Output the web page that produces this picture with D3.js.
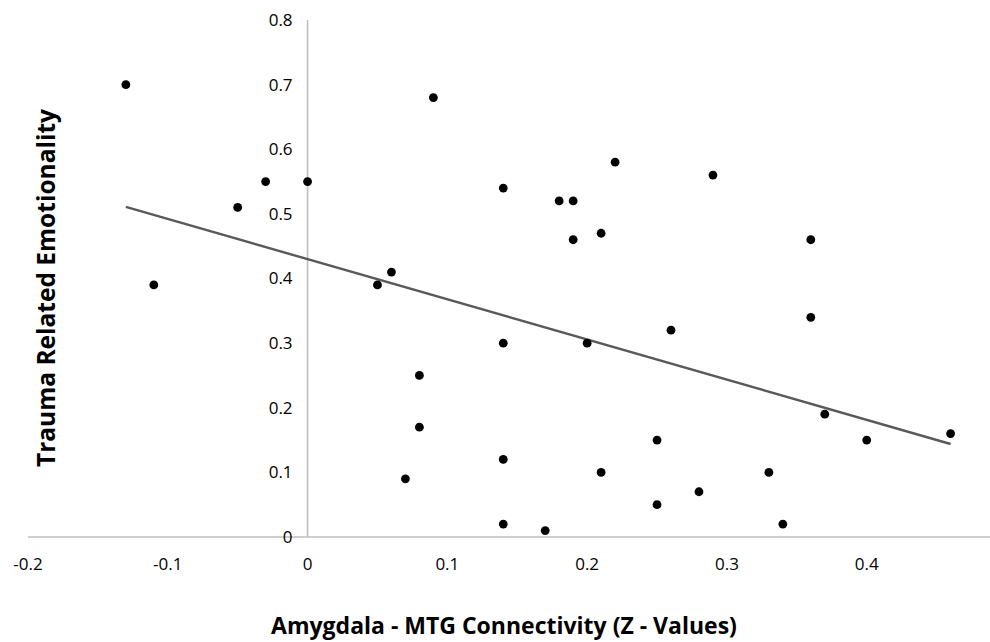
<!DOCTYPE html>
<html>
<head>
<meta charset="utf-8">
<script src="https://cdn.jsdelivr.net/npm/d3@7"></script>
<style>
  html, body { margin: 0; padding: 0; background: #fff; }
  svg { display: block; }
  text { font-family: "Open Sans", "DejaVu Sans", sans-serif; fill: #000; }
</style>
</head>
<body>
<svg id="chart" width="990" height="642"></svg>
<script>
// Data
const connectivity = [-0.13, -0.11, -0.05, -0.03, 0.00, 0.05, 0.06, 0.07, 0.08, 0.08, 0.09,
  0.14, 0.14, 0.14, 0.14, 0.17, 0.18, 0.19, 0.19, 0.20, 0.21, 0.21, 0.22,
  0.25, 0.25, 0.26, 0.28, 0.29, 0.33, 0.34, 0.36, 0.36, 0.37, 0.40, 0.46];
const emotionality = [0.70, 0.39, 0.51, 0.55, 0.55, 0.39, 0.41, 0.09, 0.25, 0.17, 0.68,
  0.54, 0.30, 0.12, 0.02, 0.01, 0.52, 0.52, 0.46, 0.30, 0.47, 0.10, 0.58,
  0.15, 0.05, 0.32, 0.07, 0.56, 0.10, 0.02, 0.46, 0.34, 0.19, 0.15, 0.16];
const xTicks = [-0.2, -0.1, 0, 0.1, 0.2, 0.3, 0.4];
const yTicks = [0, 0.1, 0.2, 0.3, 0.4, 0.5, 0.6, 0.7, 0.8];
const xTitle = "Amygdala - MTG Connectivity (Z - Values)";
const yTitle = "Trauma Related Emotionality";

const svg = d3.select("#chart");

const x = d3.scaleLinear().domain([-0.2, 0.5]).range([28, 1006.5]);
const y = d3.scaleLinear().domain([0, 0.8]).range([537, 20]);

const fmt = v => String(+v.toFixed(1));

// X axis line (horizontal, at y=0) extending to right edge
svg.append("line")
  .attr("x1", x(-0.2)).attr("x2", 990)
  .attr("y1", y(0)).attr("y2", y(0))
  .attr("stroke", "#bfbfbf").attr("stroke-width", 1.6);

// Y axis line at x=0
svg.append("line")
  .attr("x1", x(0)).attr("x2", x(0))
  .attr("y1", y(0.8)).attr("y2", y(0))
  .attr("stroke", "#bfbfbf").attr("stroke-width", 1.6);

// Y tick labels
svg.append("g").selectAll("text").data(yTicks).join("text")
  .attr("x", x(0) - 15)
  .attr("y", d => y(d))
  .attr("dy", "0.35em")
  .attr("text-anchor", "end")
  .attr("font-size", 17)
  .text(fmt);

// X tick labels (below axis)
svg.append("g").selectAll("text").data(xTicks).join("text")
  .attr("x", d => x(d))
  .attr("y", 564)
  .attr("dy", "0.35em")
  .attr("text-anchor", "middle")
  .attr("font-size", 17)
  .text(fmt);

// Trendline (least squares from data)
const n = connectivity.length;
const mx = d3.mean(connectivity), my = d3.mean(emotionality);
let sxy = 0, sxx = 0;
for (let i = 0; i < n; i++) {
  sxy += (connectivity[i] - mx) * (emotionality[i] - my);
  sxx += (connectivity[i] - mx) ** 2;
}
const slope = sxy / sxx, intercept = my - slope * mx;
const [xmin, xmax] = d3.extent(connectivity);
svg.append("line")
  .attr("x1", x(xmin)).attr("y1", y(intercept + slope * xmin))
  .attr("x2", x(xmax)).attr("y2", y(intercept + slope * xmax))
  .attr("stroke", "#595959").attr("stroke-width", 2.4);

// Points
svg.append("g").selectAll("circle").data(connectivity.map((c, i) => [c, emotionality[i]])).join("circle")
  .attr("cx", d => x(d[0]))
  .attr("cy", d => y(d[1]))
  .attr("r", 4.4)
  .attr("fill", "#000");

// Axis titles
svg.append("text")
  .attr("x", 504).attr("y", 626)
  .attr("dy", "0.35em")
  .attr("text-anchor", "middle")
  .attr("font-size", 23)
  .attr("font-weight", "bold")
  .text(xTitle);

svg.append("text")
  .attr("transform", "translate(46,288) rotate(-90)")
  .attr("dy", "0.35em")
  .attr("text-anchor", "middle")
  .attr("font-size", 24.5)
  .attr("font-weight", "bold")
  .text(yTitle);
</script>
</body>
</html>
